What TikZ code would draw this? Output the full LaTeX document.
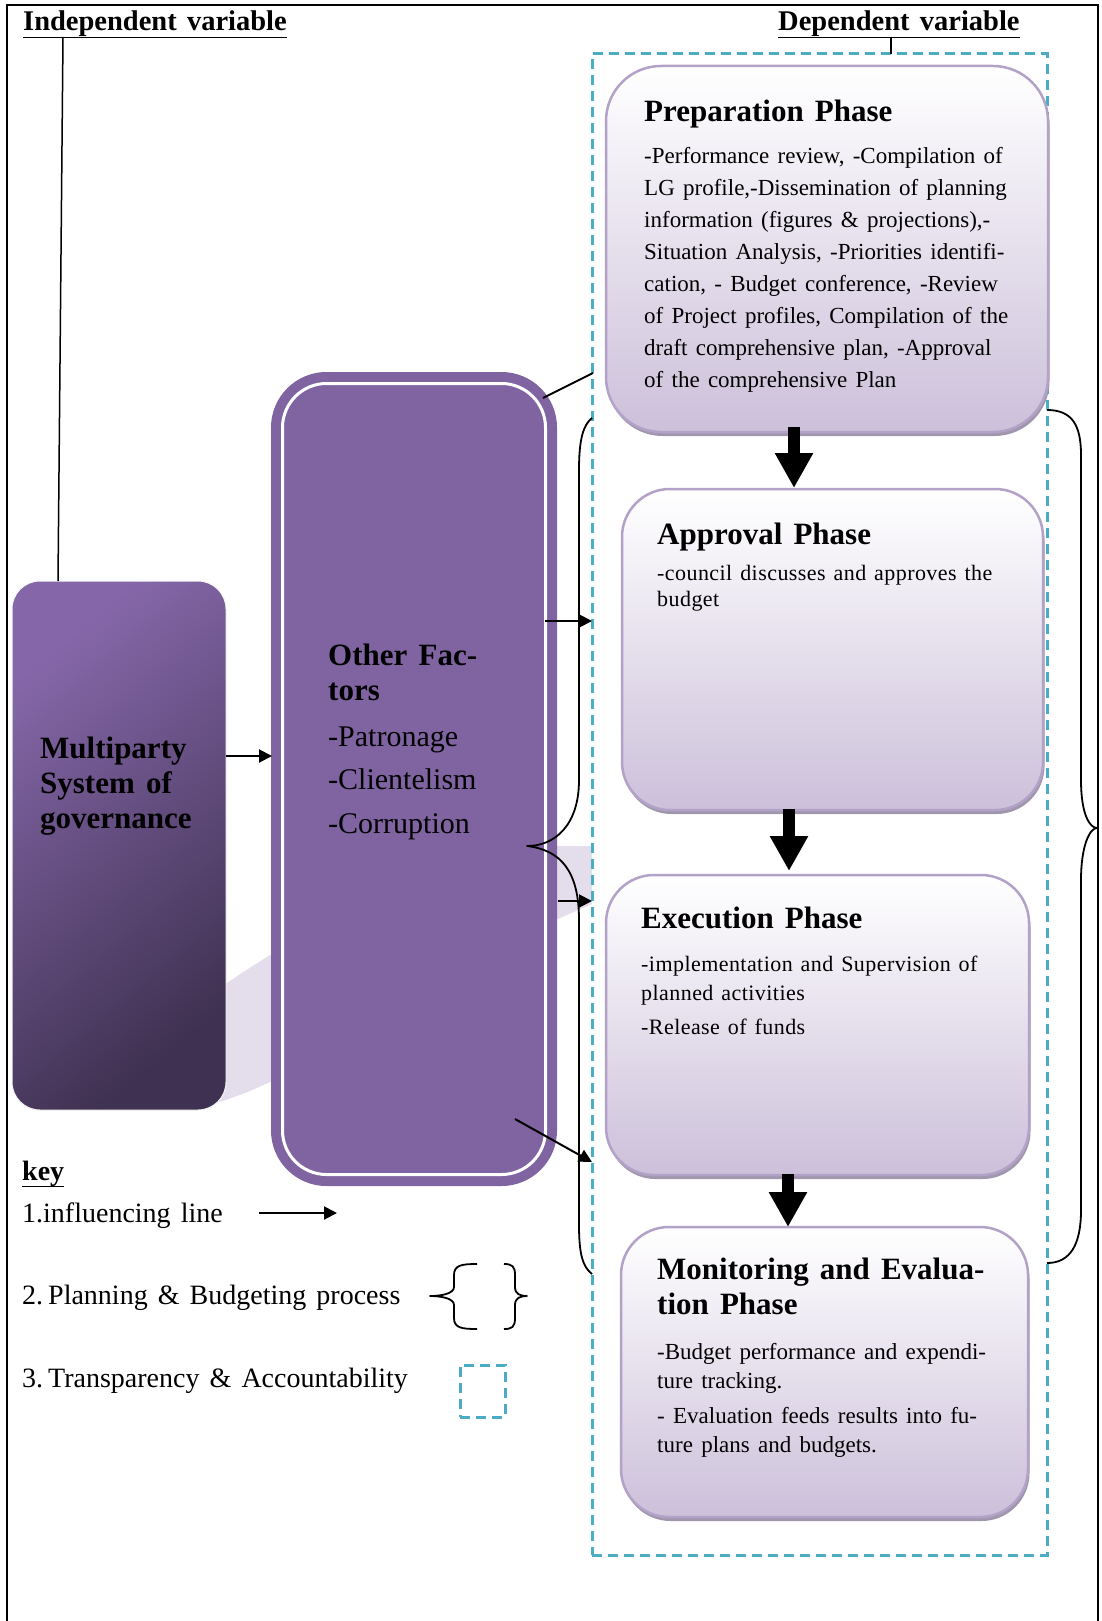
\documentclass[tikz,border=0pt]{standalone}
\usepackage{fontspec}
\setmainfont{Liberation Serif}[WordSpace=1.2]
\usetikzlibrary{arrows.meta,shadows,calc}
\definecolor{phaseBot}{HTML}{CCC0DA}
\definecolor{phaseBorder}{HTML}{B3A2C7}
\definecolor{ofPurple}{HTML}{8064A2}
\definecolor{mpA}{HTML}{8567A9}
\definecolor{mpB}{HTML}{3F3151}
\definecolor{swoosh}{HTML}{E4DEEC}
\definecolor{dashBlue}{HTML}{4BACC6}
\definecolor{shadowc}{HTML}{A097AD}
\newcommand\setfs[2]{\fontsize{#1}{#2}\selectfont\spaceskip=0.36em plus 0.1em\relax}
\begin{document}
\begin{tikzpicture}[x=1pt,y=-1pt,
  phasebox/.style={draw=phaseBorder, line width=2.5pt, top color=white, bottom color=phaseBot, inner sep=0pt,
     drop shadow={shadow xshift=1.5pt,shadow yshift=-4pt,fill=shadowc,opacity=1}},
  txt/.style={inner sep=0pt, anchor=base west, text width=440pt, align=left},
  infl/.style={line width=2pt, -{Triangle[length=13pt,width=13pt]}},
  bigarrow/.style={line width=12pt, -{Triangle[length=35pt,width=36pt]}},
  brace/.style={line width=1.8pt, line join=round},
  tbox/.style={draw=dashBlue, line width=3pt, dash pattern=on 10pt off 6pt, inner sep=0pt},
  thinline/.style={line width=1.5pt}]
\useasboundingbox (0,0) rectangle (1102,1621);
\fill[white] (0,0) rectangle (1102,1621);
% frame
\draw[line width=2.5pt] (7,1621) -- (7,5) -- (1098,5) -- (1098,1621);

% titles
\node[inner sep=0pt, anchor=base west] (tInd) at (23,31) {\setfs{28.5}{32}\bfseries Independent variable};
\node[inner sep=0pt, anchor=base west] (tDep) at (778,31) {\setfs{28.5}{32}\bfseries Dependent variable};
\draw[thinline] (tInd.south west) -- (tInd.south east);
\draw[thinline] (tDep.south west) -- (tDep.south east);

% decorative swoosh
\fill[swoosh] (195,1005) .. controls (300,930) and (450,846) .. (560,846) -- (592,846) -- (592,904) -- (560,918)
   .. controls (420,980) and (300,1090) .. (190,1109) -- cycle;

% transparency box
\node[tbox, minimum width=455pt, minimum height=1501pt] (ta) at (819.5,804.5) {};

% independent boxes
\node[draw=white!92!gray, line width=1pt, rounded corners=28pt, top color=mpA, bottom color=mpB, shading angle=40,
      minimum width=214pt, minimum height=529pt, inner sep=0pt] (mp) at (119,845.5) {};
\node[fill=ofPurple, draw=ofPurple, line width=10pt, double=white, double distance=3pt, rounded corners=44pt,
      minimum width=263pt, minimum height=791pt, inner sep=0pt] (of) at (414,779) {};

% phase boxes
\node[phasebox, rounded corners=55pt, minimum width=442pt, minimum height=366pt] (prep) at (827,249) {};
\node[phasebox, rounded corners=48pt, minimum width=421pt, minimum height=321pt] (appr) at (832.5,649.5) {};
\node[phasebox, rounded corners=48pt, minimum width=423pt, minimum height=300pt] (exec) at (817.5,1025) {};
\node[phasebox, rounded corners=48pt, minimum width=407pt, minimum height=290pt] (mon) at (824.5,1372) {};

% texts
\node[txt] (prepT) at (644,122) {\setfs{31}{35}\bfseries Preparation Phase\par};
\node[txt] (prepB) at (644,164) {\setfs{23}{32}-Performance review, -Compilation of\\
LG profile,-Dissemination of planning\\
information (figures \& projections),-\\
Situation Analysis, -Priorities identifi-\\
cation, - Budget conference, -Review\\
of Project profiles, Compilation of the\\
draft comprehensive plan, -Approval\\
of the comprehensive Plan\par};
\node[txt] (apprT) at (657,544) {\setfs{31}{35}\bfseries Approval Phase\par};
\node[txt] (apprB) at (657,580) {\setfs{22}{26}\addfontfeatures{LetterSpace=2}-council discusses and approves the\\budget\par};
\node[txt] (execT) at (641,928) {\setfs{31}{35}\bfseries Execution Phase\par};
\node[txt] (execB) at (641,971) {\setfs{22}{29}\addfontfeatures{LetterSpace=2}-implementation and Supervision of\\planned activities\\[5pt]-Release of funds\par};
\node[txt] (monT) at (657,1279) {\setfs{31}{35}\bfseries Monitoring and Evalua-\\tion Phase\par};
\node[txt] (monB) at (657,1359) {\setfs{23}{29}-Budget performance and expendi-\\ture tracking.\\[6pt]- Evaluation feeds results into fu-\\ture plans and budgets.\par};

\node[txt] (mpT) at (40,758) {\setfs{31}{35}\bfseries Multiparty\\System of\\governance\par};
\node[txt] (ofT) at (328,665) {\setfs{31}{35}\bfseries Other Fac-\\tors\par};
\node[txt] (ofB) at (328,746) {\setfs{30}{43.5}-Patronage\\-Clientelism\\-Corruption\par};

% connector end points
\coordinate (indA) at (63,37);
\coordinate (indB) at (58,581);
\coordinate (depA) at (891,37);
\coordinate (depB) at (891,54);
\coordinate (a0s) at (226,756);
\coordinate (a0e) at (272,756);
\coordinate (c1s) at (543,398);
\coordinate (c1e) at (593,373);
\coordinate (c2s) at (545,621);
\coordinate (c2e) at (592,621);
\coordinate (c3s) at (558,901);
\coordinate (c3e) at (592,901);
\coordinate (c4s) at (515,1119);
\coordinate (c4e) at (592,1162);
\coordinate (b1s) at (794,427);
\coordinate (b1e) at (794,488);
\coordinate (b2s) at (789,809);
\coordinate (b2e) at (789,871);
\coordinate (b3s) at (788,1174);
\coordinate (b3e) at (788,1227);

\draw[thinline] (indA) -- (indB);
\draw[thinline] (depA) -- (depB);
\draw[infl] (a0s) -- (a0e);
\draw[line width=2pt] (c1s) -- (c1e);
\draw[infl] (c2s) -- (c2e);
\draw[infl] (c3s) -- (c3e);
\draw[infl] (c4s) -- (c4e);
\draw[bigarrow] (b1s) -- (b1e);
\draw[bigarrow] (b2s) -- (b2e);
\draw[bigarrow] (b3s) -- (b3e);

% braces
\draw[brace] (592,418) .. controls (583,425) and (579,440) .. (579,470) -- (579,780)
  .. controls (579,825) and (555,846) .. (527,846)
  .. controls (560,850) and (579,870) .. (579,920) -- (579,1225)
  .. controls (579,1255) and (583,1267) .. (592,1274);
\draw[brace] (1047,410) .. controls (1072,410) and (1081,425) .. (1081,455) -- (1081,780)
  .. controls (1081,815) and (1090,828) .. (1097,828)
  .. controls (1090,828) and (1081,845) .. (1081,880) -- (1081,1210)
  .. controls (1081,1245) and (1070,1263) .. (1047,1263);

% key
\node[inner sep=0pt, anchor=base west] (key) at (22,1180) {\setfs{28}{32}\bfseries key};
\draw[thinline] (key.south west) -- (key.south east);
\node[txt] (k1) at (22,1222) {\setfs{28}{32}1.influencing line\par};
\node[txt] (k2) at (22,1304) {\setfs{28}{32}2. Planning \& Budgeting process\par};
\node[txt] (k3) at (22,1387) {\setfs{28}{32}3. Transparency \& Accountability\par};
\coordinate (k1s) at (259,1213);
\coordinate (k1e) at (337,1213);
\draw[infl] (k1s) -- (k1e);
\draw[brace] (477,1264) .. controls (462,1264) and (454,1265) .. (454,1275) -- (454,1287)
  .. controls (454,1294) and (440,1296) .. (430,1296)
  .. controls (440,1296) and (454,1298) .. (454,1305) -- (454,1318)
  .. controls (454,1328) and (462,1329) .. (477,1329);
\draw[brace] (504,1264) .. controls (512,1264) and (515,1266) .. (515,1275) -- (515,1287)
  .. controls (515,1294) and (520,1296) .. (527,1296)
  .. controls (520,1296) and (515,1298) .. (515,1305) -- (515,1318)
  .. controls (515,1327) and (512,1329) .. (504,1329);
\node[tbox, minimum width=45pt, minimum height=52pt] (keysq) at (482.5,1391) {};
\end{tikzpicture}
\end{document}
